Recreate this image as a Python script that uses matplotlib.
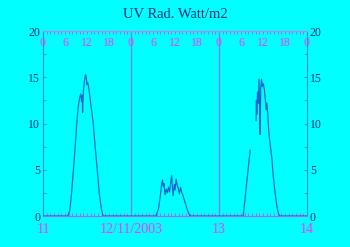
import numpy as np
import matplotlib
matplotlib.use("Agg")
import matplotlib.pyplot as plt
import matplotlib.transforms as mtrans

# hours since 11/11/2003 00:00 and UV radiation (W/m2); NaN = missing data
hours = [0, 6.8, 7.3, 7.8, 8.3, 8.8, 9.2, 9.6, 10.0, 10.3, 10.5, 10.7, 10.8,
         11.0, 11.3, 11.6, 11.8, 12.0, 12.2, 12.5, 13.0, 13.7, 14.2, 14.8,
         15.3, 15.9, 16.4,
         30.8, 31.5, 32.0, 32.4, 32.6, 32.8, 33.0, 33.3, 33.6, 33.9, 34.2,
         34.5, 34.8, 35.1, 35.3, 35.5, 35.8, 36.0, 36.3, 36.6, 36.9, 37.2,
         37.5, 37.8, 38.1, 38.4, 38.8, 39.2, 39.6, 40.1,
         54.6, 56.5, 57.0, 58.1, 58.2, 58.3, 58.5, 58.7, 58.9, 59.1, 59.2,
         59.4, 59.6, 59.8, 60.1, 60.4, 60.7, 60.9, 61.0, 61.3, 61.6, 61.9,
         62.4, 62.8, 63.3, 63.8, 64.2, 64.5, 72]
uv = [0, 0, 0.6, 2.5, 5.0, 7.6, 10.0, 11.8, 12.8, 13.2, 12.4, 13.0, 11.2,
      13.5, 14.6, 15.3, 15.0, 14.2, 14.4, 13.8, 12.2, 10.0, 7.6, 5.0,
      2.6, 0.8, 0,
      0, 0.8, 2.2, 3.6, 3.9, 3.2, 3.5, 2.3, 2.9, 2.5, 3.1,
      2.6, 3.6, 4.4, 3.0, 2.2, 3.4, 2.8, 4.0, 3.3, 3.0, 2.4,
      3.1, 2.6, 2.3, 1.9, 1.4, 0.9, 0.4, 0,
      0, 7.1, np.nan, 10.3, 12.5, 11.0, 13.4, 12.2, 14.8, 12.0, 8.8,
      13.9, 14.8, 14.0, 14.3, 13.6, 12.3, 11.5, 12.2, 11.0, 9.0, 7.9,
      6.3, 4.3, 2.5, 1.0, 0.3, 0, 0]

day_ticks = [0, 24, 48, 72]
day_labels = ["11", "12/11/2003", "13", "14"]
hour_labels = ["0", "6", "12", "18"]
title = "UV Rad. Watt/m2"

bg = "#00ffff"
magenta = "#ff33ff"
navy = "#102a80"

plt.rcParams["font.family"] = ["Liberation Serif", "DejaVu Serif"]

fig = plt.figure(figsize=(3.5, 2.47), dpi=100, facecolor=bg)
ax = fig.add_axes([43 / 350, 31 / 247, 264 / 350, 185 / 247], facecolor=bg)

for d in day_ticks[1:-1]:
    ax.axvline(d, color="#7c7cf0", lw=0.9, zorder=1)

ax.plot(hours, uv, color="#1464d2", lw=0.85, zorder=3)

ax.set_xlim(0, 72)
ax.set_ylim(0, 20)

for side in ["left", "right"]:
    ax.spines[side].set_color("#3a8ed0")
ax.spines["top"].set_color("#b08af0")
ax.spines["bottom"].set_color("#9a6cf0")
for s in ax.spines.values():
    s.set_linewidth(0.8)

# x: day labels at bottom, hourly minor ticks top and bottom
ax.set_xticks(day_ticks)
ax.set_xticklabels(day_labels, color=magenta, fontsize=10)
ax.set_xticks(np.arange(0, 73, 1), minor=True)
ax.tick_params(axis="x", which="major", length=0, pad=5)
ax.tick_params(axis="x", which="minor", direction="in", length=2,
               color=magenta, width=0.6, top=True, bottom=True)

# y: both sides
ax.set_yticks([0, 5, 10, 15, 20])
ax.set_yticks(np.arange(0, 20.1, 2.5), minor=True)
ax.tick_params(axis="y", which="both", direction="in", left=True, right=True,
               labelleft=True, labelright=True, color="#3a8ed0",
               length=2.5, width=0.6, labelsize=8.5, pad=2)
for lab in ax.get_yticklabels():
    lab.set_color(navy)

# hour labels inside the top edge
trans = mtrans.blended_transform_factory(ax.transData, ax.transAxes)
for d in range(4):
    for i, lab in enumerate(hour_labels):
        h = d * 24 + i * 6
        if h > 72:
            break
        ax.text(h, 1 - 6 / 185, lab, transform=trans, ha="center", va="top",
                color=magenta, fontsize=8.5, clip_on=False, zorder=5)

fig.text(0.5, 1 - 14 / 247, title, ha="center", va="center",
         color=navy, fontsize=10.5)

fig.savefig("out.png", dpi=100, facecolor=bg)
